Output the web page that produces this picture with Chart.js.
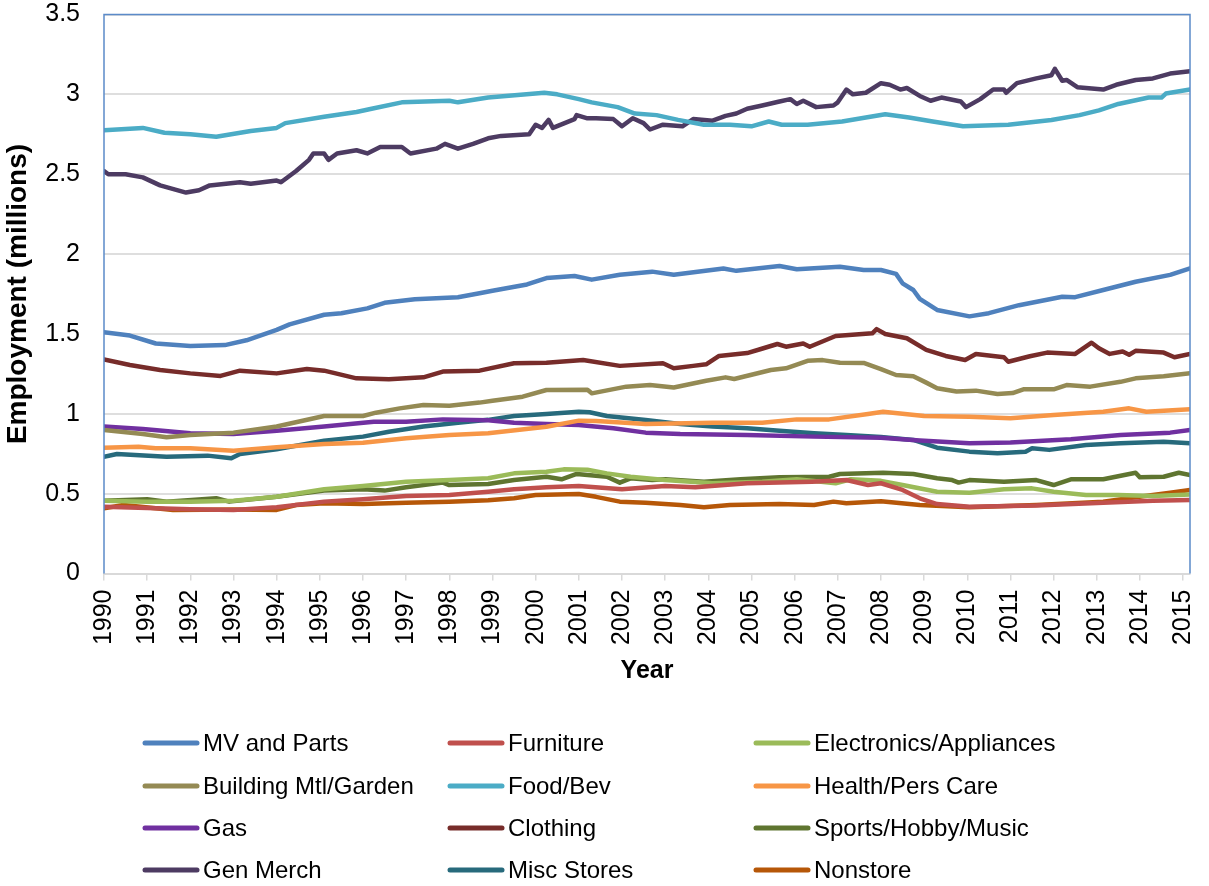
<!DOCTYPE html>
<html>
<head>
<meta charset="utf-8">
<title>Retail employment by store type, 1990–2015</title>
<script src="https://cdn.jsdelivr.net/npm/chart.js@4"></script>
<style>
  html, body { margin: 0; padding: 0; background: #ffffff; }
  #wrap { width: 1209px; height: 886px; position: relative; }
</style>
</head>
<body>
<div id="wrap"><canvas id="chart" width="1209" height="886"></canvas></div>
<script>
// Monthly retail employment (millions), sampled as [year, value] pairs.
const seriesNames = [
  'MV and Parts', 'Furniture', 'Electronics/Appliances',
  'Building Mtl/Garden', 'Food/Bev', 'Health/Pers Care',
  'Gas', 'Clothing', 'Sports/Hobby/Music',
  'Gen Merch', 'Misc Stores', 'Nonstore'
];

const yTickValues = [0, 0.5, 1, 1.5, 2, 2.5, 3, 3.5];
const yearTicks = [1990, 1991, 1992, 1993, 1994, 1995, 1996, 1997, 1998, 1999, 2000, 2001, 2002,
                   2003, 2004, 2005, 2006, 2007, 2008, 2009, 2010, 2011, 2012, 2013, 2014, 2015];

const mvParts = [[1990.0,1.51],[1990.6,1.49],[1991.2,1.44],[1992.0,1.425],[1992.8,1.43],[1993.3,1.46],[1994.0,1.525],[1994.3,1.56],[1995.1,1.62],[1995.5,1.63],[1996.1,1.66],[1996.5,1.695],[1997.2,1.717],[1998.2,1.73],[1998.7,1.755],[1999.0,1.77],[1999.8,1.81],[2000.25,1.85],[2000.9,1.863],[2001.3,1.84],[2001.95,1.87],[2002.7,1.89],[2003.2,1.87],[2004.35,1.91],[2004.65,1.895],[2005.65,1.925],[2006.05,1.905],[2007.05,1.92],[2007.6,1.9],[2008.0,1.9],[2008.35,1.876],[2008.5,1.817],[2008.75,1.775],[2008.9,1.72],[2009.3,1.65],[2010.05,1.61],[2010.5,1.63],[2011.2,1.68],[2012.2,1.733],[2012.5,1.73],[2013.15,1.775],[2013.9,1.827],[2014.7,1.87],[2015.16,1.91]];

const furniture = [[1990.0,0.418],[1991.0,0.41],[1992.0,0.402],[1993.0,0.398],[1994.0,0.415],[1995.1,0.45],[1996.0,0.465],[1997.0,0.485],[1998.0,0.491],[1998.9,0.512],[1999.5,0.527],[2000.25,0.54],[2001.0,0.548],[2002.0,0.527],[2003.0,0.548],[2003.7,0.54],[2004.9,0.565],[2006.4,0.575],[2007.2,0.585],[2007.7,0.554],[2008.0,0.565],[2008.5,0.523],[2008.9,0.471],[2009.3,0.435],[2010.05,0.418],[2011.6,0.425],[2013.15,0.443],[2014.3,0.456],[2015.16,0.46]];

const electronics = [[1990.0,0.456],[1991.0,0.45],[1992.0,0.45],[1993.0,0.456],[1994.0,0.481],[1995.1,0.527],[1996.0,0.548],[1997.0,0.575],[1998.0,0.585],[1998.9,0.596],[1999.5,0.627],[2000.25,0.637],[2000.65,0.652],[2001.2,0.65],[2001.65,0.627],[2002.2,0.606],[2003.0,0.585],[2004.1,0.565],[2005.25,0.575],[2006.05,0.59],[2006.95,0.565],[2007.3,0.59],[2008.0,0.58],[2008.5,0.554],[2009.3,0.512],[2010.05,0.506],[2010.85,0.527],[2011.5,0.533],[2012.0,0.512],[2012.75,0.491],[2013.5,0.491],[2014.3,0.485],[2015.16,0.495]];

const buildingGarden = [[1990.0,0.898],[1990.9,0.873],[1991.45,0.853],[1992.0,0.867],[1993.0,0.882],[1994.0,0.92],[1995.1,0.986],[1996.0,0.986],[1996.3,1.007],[1996.85,1.034],[1997.4,1.055],[1998.0,1.05],[1998.7,1.07],[1999.0,1.082],[1999.7,1.107],[2000.25,1.149],[2001.2,1.15],[2001.3,1.128],[2002.1,1.17],[2002.65,1.18],[2003.2,1.165],[2003.95,1.207],[2004.4,1.228],[2004.6,1.218],[2005.45,1.274],[2005.8,1.285],[2006.3,1.332],[2006.65,1.336],[2007.05,1.32],[2007.6,1.318],[2008.0,1.28],[2008.35,1.243],[2008.75,1.235],[2009.05,1.195],[2009.3,1.16],[2009.75,1.14],[2010.2,1.145],[2010.7,1.124],[2011.05,1.13],[2011.3,1.153],[2012.0,1.153],[2012.3,1.18],[2012.85,1.17],[2013.55,1.2],[2013.9,1.222],[2014.55,1.235],[2015.16,1.254]];

const foodBev = [[1990.0,2.776],[1990.9,2.79],[1991.4,2.76],[1992.0,2.75],[1992.6,2.734],[1993.4,2.77],[1994.0,2.79],[1994.2,2.82],[1995.1,2.86],[1995.85,2.89],[1996.2,2.91],[1996.9,2.95],[1998.0,2.96],[1998.2,2.95],[1998.9,2.98],[2000.2,3.01],[2000.5,3.0],[2001.0,2.97],[2001.3,2.95],[2001.9,2.92],[2002.3,2.88],[2002.8,2.87],[2003.3,2.84],[2003.9,2.81],[2004.5,2.81],[2005.0,2.8],[2005.4,2.83],[2005.7,2.81],[2006.3,2.81],[2007.1,2.83],[2007.65,2.855],[2008.1,2.876],[2008.65,2.855],[2009.2,2.83],[2009.9,2.8],[2010.95,2.81],[2011.95,2.84],[2012.6,2.87],[2013.05,2.9],[2013.5,2.94],[2014.2,2.98],[2014.5,2.98],[2014.6,3.005],[2015.16,3.03]];

const healthCare = [[1990.0,0.788],[1990.8,0.794],[1991.2,0.784],[1992.0,0.784],[1993.0,0.769],[1994.0,0.79],[1995.1,0.811],[1996.0,0.819],[1997.0,0.847],[1998.0,0.867],[1998.9,0.878],[2000.25,0.919],[2001.0,0.957],[2001.4,0.955],[2002.55,0.936],[2004.1,0.944],[2005.25,0.944],[2006.05,0.965],[2006.8,0.965],[2007.7,0.999],[2008.05,1.013],[2008.5,1.0],[2009.0,0.986],[2010.05,0.982],[2011.0,0.972],[2012.0,0.992],[2013.15,1.013],[2013.75,1.034],[2014.15,1.013],[2015.16,1.028]];

const gas = [[1990.0,0.92],[1990.9,0.905],[1992.0,0.878],[1993.0,0.873],[1994.0,0.894],[1995.1,0.92],[1996.25,0.95],[1997.0,0.95],[1997.85,0.965],[1998.9,0.96],[1999.5,0.944],[2000.25,0.936],[2001.0,0.93],[2001.8,0.91],[2002.55,0.882],[2003.35,0.873],[2004.9,0.867],[2006.45,0.857],[2008.0,0.85],[2008.9,0.832],[2010.05,0.815],[2011.0,0.82],[2012.4,0.84],[2013.55,0.867],[2014.7,0.882],[2015.16,0.898]];

const clothing = [[1990.0,1.34],[1990.6,1.305],[1991.3,1.274],[1992.0,1.253],[1992.7,1.237],[1993.15,1.27],[1994.0,1.253],[1994.7,1.28],[1995.1,1.27],[1995.85,1.222],[1996.6,1.216],[1997.4,1.228],[1997.85,1.264],[1998.7,1.27],[1999.5,1.316],[2000.25,1.32],[2001.1,1.337],[2001.95,1.3],[2002.95,1.316],[2003.2,1.285],[2003.65,1.3],[2003.95,1.31],[2004.25,1.362],[2004.9,1.38],[2005.2,1.404],[2005.6,1.437],[2005.8,1.42],[2006.2,1.44],[2006.35,1.42],[2006.95,1.487],[2007.8,1.504],[2007.9,1.53],[2008.1,1.5],[2008.6,1.473],[2009.05,1.4],[2009.5,1.362],[2009.95,1.337],[2010.2,1.374],[2010.85,1.354],[2010.95,1.326],[2011.45,1.36],[2011.85,1.383],[2012.5,1.375],[2012.88,1.445],[2013.05,1.41],[2013.3,1.375],[2013.6,1.39],[2013.75,1.37],[2013.9,1.394],[2014.55,1.383],[2014.8,1.354],[2015.16,1.374]];

const sportsHobby = [[1990.0,0.456],[1991.0,0.465],[1991.45,0.45],[1992.6,0.471],[1992.9,0.45],[1994.0,0.481],[1995.1,0.519],[1996.0,0.527],[1996.5,0.519],[1997.0,0.54],[1997.85,0.569],[1998.0,0.554],[1998.9,0.56],[1999.5,0.585],[2000.25,0.606],[2000.6,0.59],[2000.95,0.623],[2001.65,0.606],[2001.95,0.569],[2002.2,0.596],[2002.7,0.585],[2003.0,0.59],[2003.9,0.575],[2004.75,0.59],[2005.65,0.602],[2006.8,0.606],[2007.05,0.623],[2008.05,0.631],[2008.75,0.623],[2009.3,0.596],[2009.65,0.585],[2009.8,0.569],[2010.05,0.585],[2010.85,0.575],[2011.6,0.585],[2012.0,0.554],[2012.4,0.59],[2013.15,0.59],[2013.9,0.631],[2014.0,0.602],[2014.55,0.606],[2014.9,0.631],[2015.16,0.617]];

const genMerch = [[1990.0,2.52],[1990.1,2.5],[1990.5,2.5],[1990.9,2.48],[1991.3,2.43],[1991.9,2.385],[1992.2,2.4],[1992.45,2.43],[1993.15,2.45],[1993.4,2.44],[1994.0,2.46],[1994.1,2.45],[1994.45,2.52],[1994.75,2.59],[1994.85,2.63],[1995.1,2.63],[1995.2,2.59],[1995.4,2.63],[1995.85,2.65],[1996.1,2.63],[1996.4,2.67],[1996.9,2.67],[1997.1,2.63],[1997.7,2.66],[1997.9,2.69],[1998.2,2.66],[1998.55,2.69],[1998.9,2.725],[1999.2,2.74],[1999.85,2.75],[2000.0,2.81],[2000.15,2.79],[2000.3,2.84],[2000.4,2.79],[2000.9,2.845],[2000.95,2.87],[2001.2,2.85],[2001.4,2.85],[2001.8,2.845],[2002.0,2.8],[2002.25,2.85],[2002.5,2.82],[2002.65,2.78],[2002.95,2.81],[2003.4,2.8],[2003.65,2.845],[2004.1,2.835],[2004.4,2.865],[2004.65,2.88],[2004.9,2.91],[2005.25,2.93],[2005.65,2.955],[2005.9,2.97],[2006.05,2.94],[2006.2,2.96],[2006.5,2.92],[2006.9,2.93],[2007.0,2.95],[2007.2,3.03],[2007.35,3.0],[2007.65,3.01],[2008.0,3.07],[2008.2,3.06],[2008.45,3.03],[2008.6,3.04],[2008.9,2.99],[2009.15,2.96],[2009.4,2.98],[2009.85,2.955],[2009.97,2.92],[2010.3,2.97],[2010.6,3.03],[2010.85,3.03],[2010.9,3.01],[2011.15,3.07],[2011.6,3.1],[2011.95,3.12],[2012.03,3.16],[2012.2,3.085],[2012.3,3.09],[2012.55,3.045],[2013.15,3.03],[2013.45,3.06],[2013.9,3.09],[2014.3,3.1],[2014.7,3.13],[2015.16,3.145]];

const miscStores = [[1990.0,0.731],[1990.3,0.748],[1991.45,0.731],[1992.4,0.738],[1992.95,0.721],[1993.15,0.748],[1994.0,0.778],[1995.1,0.832],[1996.0,0.857],[1996.6,0.888],[1997.4,0.92],[1998.2,0.944],[1998.9,0.962],[1999.5,0.986],[2000.25,0.999],[2001.0,1.013],[2001.25,1.01],[2001.65,0.986],[2002.55,0.961],[2003.35,0.936],[2004.1,0.92],[2004.9,0.909],[2005.65,0.894],[2006.45,0.878],[2007.2,0.867],[2008.0,0.855],[2008.75,0.836],[2009.3,0.788],[2010.05,0.763],[2010.7,0.753],[2011.35,0.763],[2011.5,0.784],[2011.9,0.774],[2012.75,0.805],[2013.55,0.815],[2014.55,0.825],[2015.16,0.815]];

const nonstore = [[1990.0,0.408],[1990.45,0.429],[1991.6,0.398],[1993.0,0.4],[1994.0,0.398],[1994.45,0.429],[1995.1,0.44],[1996.0,0.435],[1997.0,0.443],[1998.0,0.45],[1998.9,0.458],[1999.5,0.471],[2000.0,0.491],[2001.0,0.498],[2001.4,0.48],[2001.95,0.45],[2002.55,0.443],[2003.35,0.429],[2003.9,0.415],[2004.5,0.429],[2005.65,0.435],[2006.45,0.429],[2006.9,0.45],[2007.2,0.44],[2008.0,0.452],[2008.9,0.429],[2010.05,0.415],[2011.6,0.429],[2013.15,0.45],[2013.9,0.477],[2014.7,0.506],[2015.16,0.523]];

const seriesValues = [mvParts, furniture, electronics, buildingGarden, foodBev, healthCare,
                      gas, clothing, sportsHobby, genMerch, miscStores, nonstore];

const seriesColors = ['#4F81BD', '#C0504D', '#9BBB59', '#948A54', '#4BACC6', '#F79646',
                      '#7030A0', '#772C2A', '#5F7530', '#4D3B62', '#276A7C', '#B65708'];

const FONT = "'Liberation Sans', Arial, Helvetica, sans-serif";

const datasets = seriesNames.map((name, i) => ({
  label: name,
  data: seriesValues[i].map(p => ({ x: p[0], y: p[1] })),
  borderColor: seriesColors[i],
  backgroundColor: seriesColors[i],
  borderWidth: 4.5,
  pointRadius: 0,
  tension: 0,
  fill: false,
  borderJoinStyle: 'round',
  borderCapStyle: 'round'
}));

// Blue frame on the top, left and right of the plot area.
const plotFrame = {
  id: 'plotFrame',
  afterDatasetsDraw(chart) {
    const { ctx, chartArea: a } = chart;
    ctx.save();
    ctx.strokeStyle = '#5B8BC9';
    ctx.lineWidth = 1.5;
    ctx.beginPath();
    ctx.moveTo(a.left, a.bottom);
    ctx.lineTo(a.left, a.top);
    ctx.lineTo(a.right, a.top);
    ctx.lineTo(a.right, a.bottom);
    ctx.stroke();
    ctx.restore();
  }
};

// Three-column legend under the axis title.
const gridLegend = {
  id: 'gridLegend',
  afterDraw(chart) {
    const { ctx } = chart;
    const colX = [145, 450, 756];
    const rowY = [743, 786, 828, 870];
    ctx.save();
    ctx.font = '24px ' + FONT;
    ctx.textBaseline = 'middle';
    ctx.textAlign = 'left';
    chart.data.datasets.forEach((ds, i) => {
      const x = colX[i % 3];
      const y = rowY[Math.floor(i / 3)];
      ctx.strokeStyle = ds.borderColor;
      ctx.lineWidth = 5;
      ctx.lineCap = 'round';
      ctx.beginPath();
      ctx.moveTo(x, y);
      ctx.lineTo(x + 52, y);
      ctx.stroke();
      ctx.fillStyle = '#000000';
      ctx.fillText(ds.label, x + 58, y + 1);
    });
    ctx.restore();
  }
};

new Chart(document.getElementById('chart'), {
  type: 'line',
  data: { datasets },
  options: {
    responsive: false,
    animation: false,
    devicePixelRatio: 1,
    layout: { padding: { top: 14.5, right: 19, bottom: 192.5, left: 0 } },
    plugins: {
      legend: { display: false },
      tooltip: { enabled: false }
    },
    scales: {
      x: {
        type: 'linear',
        min: 1990,
        max: 2015.16,
        afterFit(scale) {
          scale.height = 120;
          scale.paddingLeft = 0;
          scale.paddingRight = 0;
        },
        afterBuildTicks(scale) { scale.ticks = yearTicks.map(v => ({ value: v })); },
        ticks: {
          autoSkip: false,
          minRotation: 90,
          maxRotation: 90,
          padding: 9,
          color: '#000000',
          font: { family: FONT, size: 25 },
          callback: v => String(v)
        },
        grid: {
          drawOnChartArea: false,
          drawTicks: true,
          tickLength: 7,
          color: '#D9D9D9',
          lineWidth: 1.5
        },
        border: { display: true, color: '#D9D9D9', width: 2 },
        title: {
          display: true,
          text: 'Year',
          color: '#000000',
          font: { family: FONT, size: 25, weight: 'bold' },
          padding: { top: 0, bottom: 7 }
        }
      },
      y: {
        min: 0,
        max: 3.5,
        afterFit(scale) {
          scale.width = 104;
          scale.paddingTop = 0;
          scale.paddingBottom = 0;
        },
        afterBuildTicks(scale) { scale.ticks = yTickValues.map(v => ({ value: v })); },
        ticks: {
          padding: 0,
          color: '#000000',
          font: { family: FONT, size: 25 },
          callback: v => String(v)
        },
        grid: {
          drawTicks: true,
          tickLength: 24,
          tickColor: 'rgba(0,0,0,0)',
          color: '#DEDEDE',
          lineWidth: 2
        },
        border: { display: false },
        title: {
          display: true,
          text: 'Employment (millions)',
          color: '#000000',
          font: { family: FONT, size: 28, weight: 'bold' },
          padding: { top: 1, bottom: 0 }
        }
      }
    }
  },
  plugins: [plotFrame, gridLegend]
});
</script>
</body>
</html>
